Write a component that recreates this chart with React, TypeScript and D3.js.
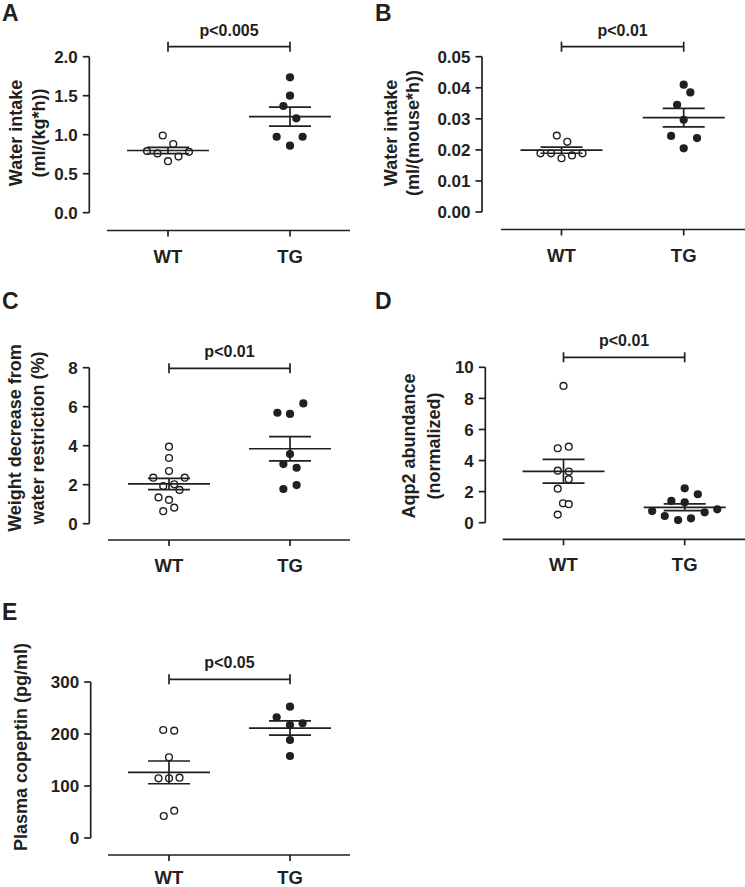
import React from "react";
import * as d3 from "d3";

// ---------- data ----------
const groups = ["WT", "TG"];

const aWT = [0.99, 0.88, 0.79, 0.76, 0.78, 0.66, 0.72];
const aWTj = [-0.5, 0.5, -2, -1, 2, 0, 1];
const aTG = [1.736, 1.5, 1.368, 1.21, 0.974, 0.974, 0.859];
const aTGj = [0, 0, -0.63, 0.6, -1.27, 1.2, 0];
const aTicks = [0, 0.5, 1, 1.5, 2];

const bWT = [0.0246, 0.0226, 0.0189, 0.0189, 0.0173, 0.0182, 0.0189];
const bWTj = [-0.45, 0.55, -2, -1, 0, 1, 2];
const bTG = [0.041, 0.0385, 0.0345, 0.0297, 0.0245, 0.0238, 0.0205];
const bTGj = [0, 0.63, -0.63, 0, -1.2, 1.27, 0];
const bTicks = [0, 0.01, 0.02, 0.03, 0.04, 0.05];

const cWT = [3.95, 3.37, 2.7, 2.36, 2.36, 1.93, 2.02, 1.73, 1.35, 1.22, 0.82, 0.64];
const cWTj = [0, 0, 0, -1.5, 1.5, -0.55, 0.5, 1, -1, 0, 0.5, -0.55];
const cTG = [6.17, 5.69, 5.63, 3.57, 3.06, 2.87, 1.78, 1.98];
const cTGj = [1.27, -1.2, 0, 0, -0.63, 0.63, -0.63, 0.63];
const cTicks = [0, 2, 4, 6, 8];

const dWT = [8.8, 4.79, 4.89, 3.35, 3.29, 2.8, 2.19, 1.25, 1.19, 0.52];
const dWTj = [0, -0.55, 0.5, -0.55, 0.5, 0.5, -0.55, -0.05, 0.5, -0.55];
const dTG = [2.21, 1.83, 1.4, 1.31, 0.75, 0.86, 0.43, 0.67, 0.17, 0.28];
const dTGj = [0, 1.25, -1.27, 0, -3.1, 3.1, -1.9, 1.9, -0.63, 0.6];
const dTicks = [0, 2, 4, 6, 8, 10];

const eWT = [207.7, 206.4, 155.2, 114.8, 114.8, 116, 42.3, 52.5];
const eWTj = [-0.55, 0.5, 0, -1, 0, 1, -0.5, 0.5];
const eTG = [252.5, 232, 217.3, 220.5, 188.5, 157.7];
const eTGj = [0, -1.27, 0, 1.2, 0, 0];
const eTicks = [0, 100, 200, 300];

const pValues = ["p<0.005", "p<0.01", "p<0.01", "p<0.01", "p<0.05"];
const panelLetters = ["A", "B", "C", "D", "E"];
const yTitles = [
  ["Water intake", "(ml/(kg*h))"],
  ["Water intake", "(ml/(mouse*h))"],
  ["Weight decrease from", "water restriction (%)"],
  ["Aqp2 abundance", "(normalized)"],
  ["Plasma copeptin (pg/ml)"],
];

// ---------- layout ----------
const INK = "#231f20";
const FONT = "'Liberation Sans', Arial, Helvetica, sans-serif";

type Panel = {
  letter: string;
  lx: number; ly: number;
  wt: number[]; wtj: number[]; tg: number[]; tgj: number[];
  ticks: number[]; fmt: string;
  axX: number; yTop: number; yBot: number;
  xAxisY: number; xL: number; xR: number; wtX: number; tgX: number; labOff: number;
  brY: number; p: string;
  titles: string[]; titleX: number[]; titleY: number;
};

const panels: Panel[] = [
  { letter: panelLetters[0], lx: 2, ly: 21, wt: aWT, wtj: aWTj, tg: aTG, tgj: aTGj, ticks: aTicks, fmt: ".1f",
    axX: 89.3, yTop: 56.7, yBot: 212.7, xAxisY: 230.5, xL: 107, xR: 350, wtX: 168, tgX: 290, labOff: 32,
    brY: 46.7, p: pValues[0], titles: yTitles[0], titleX: [15.7, 39], titleY: 133 },
  { letter: panelLetters[1], lx: 375, ly: 21, wt: bWT, wtj: bWTj, tg: bTG, tgj: bTGj, ticks: bTicks, fmt: ".2f",
    axX: 482, yTop: 56.7, yBot: 212, xAxisY: 229.5, xL: 501, xR: 745, wtX: 561.5, tgX: 683.7, labOff: 32,
    brY: 46.7, p: pValues[1], titles: yTitles[1], titleX: [390.3, 413], titleY: 133 },
  { letter: panelLetters[2], lx: 2, ly: 309, wt: cWT, wtj: cWTj, tg: cTG, tgj: cTGj, ticks: cTicks, fmt: "d",
    axX: 89.3, yTop: 367.7, yBot: 523.7, xAxisY: 540, xL: 108, xR: 350, wtX: 169, tgX: 290, labOff: 32,
    brY: 368.3, p: pValues[2], titles: yTitles[2], titleX: [15, 37.7], titleY: 438 },
  { letter: panelLetters[3], lx: 375, ly: 309, wt: dWT, wtj: dWTj, tg: dTG, tgj: dTGj, ticks: dTicks, fmt: "d",
    axX: 485.3, yTop: 367.3, yBot: 522.7, xAxisY: 539.3, xL: 502.7, xR: 745, wtX: 563.5, tgX: 684.7, labOff: 32,
    brY: 357.3, p: pValues[3], titles: yTitles[3], titleX: [408.7, 433.7], titleY: 446 },
  { letter: panelLetters[4], lx: 2, ly: 620, wt: eWT, wtj: eWTj, tg: eTG, tgj: eTGj, ticks: eTicks, fmt: "d",
    axX: 90.7, yTop: 682, yBot: 838, xAxisY: 855, xL: 108, xR: 350, wtX: 169, tgX: 290, labOff: 29,
    brY: 679.3, p: pValues[4], titles: yTitles[4], titleX: [20.7], titleY: 747 },
];

const SLOT = 10.5;
const MEAN_HW = 41;
const CAP_HW = 21;
const SW = 1.7;

function PanelView({ P }: { P: Panel }) {
  const maxT = P.ticks[P.ticks.length - 1];
  const y = d3.scaleLinear().domain([0, maxT]).range([P.yBot, P.yTop]);
  const x = d3.scalePoint<string>().domain(groups).range([P.wtX, P.tgX]);
  const fmt = d3.format(P.fmt);
  const series = [
    { g: groups[0], vals: P.wt, jit: P.wtj, filled: false },
    { g: groups[1], vals: P.tg, jit: P.tgj, filled: true },
  ];
  const wx = x(groups[0])!;
  const tx = x(groups[1])!;
  return (
    <g>
      <text x={P.lx} y={P.ly} fontSize={23} fontWeight="bold" fill={INK} fontFamily={FONT}>{P.letter}</text>
      {/* y axis */}
      <line x1={P.axX} x2={P.axX} y1={y(maxT)} y2={y(0)} stroke={INK} strokeWidth={SW} />
      {P.ticks.map((t) => (
        <g key={t}>
          <line x1={P.axX - 6.5} x2={P.axX} y1={y(t)} y2={y(t)} stroke={INK} strokeWidth={SW} />
          <text x={P.axX - 11.5} y={y(t)} dy="0.36em" textAnchor="end" fontSize={17} fontWeight="bold" fill={INK} fontFamily={FONT}>{fmt(t)}</text>
        </g>
      ))}
      {/* y title */}
      {P.titles.map((s, i) => (
        <text key={i} transform={`translate(${P.titleX[i]},${P.titleY}) rotate(-90)`} dy="0.36em" textAnchor="middle"
          fontSize={18} fontWeight="bold" fill={INK} fontFamily={FONT}>{s}</text>
      ))}
      {/* x axis */}
      <line x1={P.xL} x2={P.xR} y1={P.xAxisY} y2={P.xAxisY} stroke={INK} strokeWidth={SW} />
      {groups.map((g) => (
        <g key={g}>
          <line x1={x(g)} x2={x(g)} y1={P.xAxisY} y2={P.xAxisY + 6} stroke={INK} strokeWidth={SW} />
          <text x={x(g)} y={P.xAxisY + P.labOff} textAnchor="middle" fontSize={18.5} fontWeight="bold" fill={INK} fontFamily={FONT}>{g}</text>
        </g>
      ))}
      {/* significance bracket */}
      <line x1={wx} x2={tx} y1={P.brY} y2={P.brY} stroke={INK} strokeWidth={SW} />
      <line x1={wx} x2={wx} y1={P.brY - 5} y2={P.brY + 5} stroke={INK} strokeWidth={SW} />
      <line x1={tx} x2={tx} y1={P.brY - 5} y2={P.brY + 5} stroke={INK} strokeWidth={SW} />
      <text x={(wx + tx) / 2} y={P.brY - 11} textAnchor="middle" fontSize={16} fontWeight="bold" fill={INK} fontFamily={FONT}>{P.p}</text>
      {/* points + mean/SEM */}
      {series.map((s) => {
        const cx = x(s.g)!;
        const m = d3.mean(s.vals)!;
        const sem = d3.deviation(s.vals)! / Math.sqrt(s.vals.length);
        return (
          <g key={s.g}>
            {s.vals.map((v, i) => (
              <circle key={i} cx={cx + s.jit[i] * SLOT} cy={y(v)} r={s.filled ? 4.1 : 3.4}
                fill={s.filled ? INK : "#fff"} stroke={INK} strokeWidth={s.filled ? 0 : 1.4} />
            ))}
            <line x1={cx - MEAN_HW} x2={cx + MEAN_HW} y1={y(m)} y2={y(m)} stroke={INK} strokeWidth={SW} />
            <line x1={cx} x2={cx} y1={y(m + sem)} y2={y(m - sem)} stroke={INK} strokeWidth={SW} />
            <line x1={cx - CAP_HW} x2={cx + CAP_HW} y1={y(m + sem)} y2={y(m + sem)} stroke={INK} strokeWidth={SW} />
            <line x1={cx - CAP_HW} x2={cx + CAP_HW} y1={y(m - sem)} y2={y(m - sem)} stroke={INK} strokeWidth={SW} />
          </g>
        );
      })}
    </g>
  );
}

export default function App() {
  return (
    <svg width={745} height={887} style={{ position: "absolute", left: 0, top: 0, background: "#fff" }}>
      <rect width={745} height={887} fill="#fff" />
      {panels.map((P) => (
        <PanelView key={P.letter} P={P} />
      ))}
    </svg>
  );
}
